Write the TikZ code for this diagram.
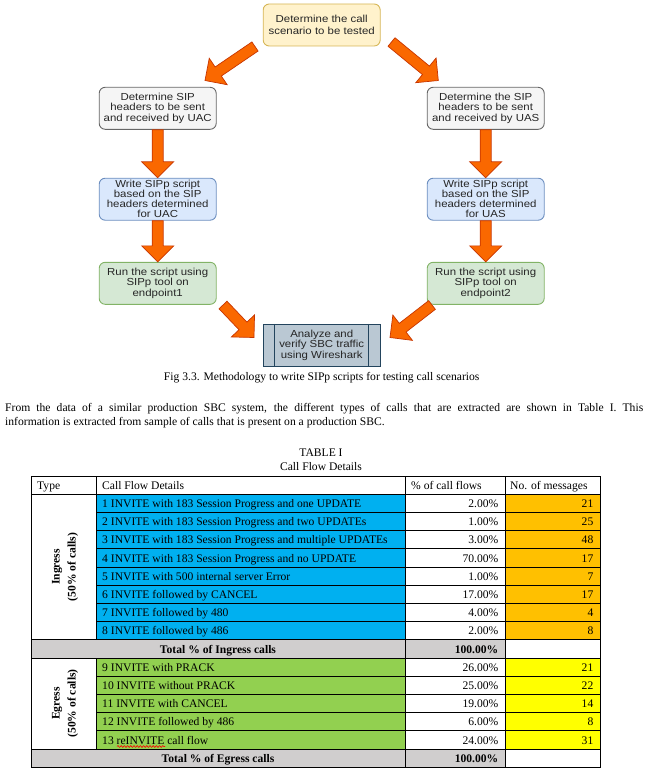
\documentclass[tikz,border=0pt]{standalone}
\usepackage{fontspec}
\setmainfont{Liberation Serif}
\newfontfamily\boxfont[FakeStretch=1.12]{Liberation Sans}
\usetikzlibrary{calc,decorations.pathmorphing}
\definecolor{yfill}{HTML}{FFF2CC}\definecolor{ydraw}{HTML}{D6B656}
\definecolor{gfill}{HTML}{F5F5F5}\definecolor{gdraw}{HTML}{666666}
\definecolor{bfill}{HTML}{DAE8FC}\definecolor{bdraw}{HTML}{6C8EBF}
\definecolor{grfill}{HTML}{D5E8D4}\definecolor{grdraw}{HTML}{82B366}
\definecolor{pfill}{HTML}{BAC8D3}\definecolor{pdraw}{HTML}{23445D}
\definecolor{afill}{HTML}{FA6800}\definecolor{adraw}{HTML}{C73500}
\definecolor{tblue}{HTML}{00B0F0}\definecolor{torange}{HTML}{FFC000}
\definecolor{tgreen}{HTML}{92D050}\definecolor{tyellow}{HTML}{FFFF00}
\definecolor{tgray}{HTML}{D0CECE}
\tikzset{
  fbox/.style={rounded corners=6pt, line width=0.9pt, minimum width=117pt,
    minimum height=42pt, inner sep=0pt, align=center,
    font=\boxfont\fontsize{10.2}{10.2}\selectfont, text=black!85},
  ybox/.style={fbox, fill=yfill, draw=ydraw, font=\boxfont\fontsize{10.2}{11.6}\selectfont},
  gbox/.style={fbox, fill=gfill, draw=gdraw},
  bbox/.style={fbox, fill=bfill, draw=bdraw, font=\boxfont\fontsize{10.2}{9.9}\selectfont},
  grbox/.style={fbox, fill=grfill, draw=grdraw, font=\boxfont\fontsize{10.2}{10.6}\selectfont},
  pbox/.style={fbox, rounded corners=0pt, fill=pfill, draw=pdraw},
  fatarrow/.style={fill=afill, draw=adraw, line width=0.7pt, line join=miter},
  cell/.style={inner sep=0pt, font=\fontsize{11.6}{13}\selectfont},
  bcell/.style={cell, font=\bfseries\fontsize{11.6}{13}\selectfont},
  grid/.style={line width=0.8pt, black},
}
\newcommand\fatarrow[2]{%
  \coordinate (fah) at ($(#2)!16pt!(#1)$);
  \filldraw[fatarrow] ($(#1)!5.5pt!90:(#2)$) -- ($(fah)!5.5pt!90:(#2)$)
    -- ($(fah)!16pt!90:(#2)$) -- (#2) -- ($(fah)!16pt!-90:(#2)$)
    -- ($(fah)!5.5pt!-90:(#2)$) -- ($(#1)!5.5pt!-90:(#2)$) -- cycle;}
\begin{document}
\begin{tikzpicture}[x=1pt,y=-1pt]
\useasboundingbox (0,0) rectangle (650,773);
% ---------------- flowchart ----------------
\node[ybox] (top) at (321.7,25) {Determine the call\\scenario to be tested};
\node[gbox] (l1) at (157.7,108.3) {Determine SIP\\headers to be sent\\and received by UAC};
\node[gbox] (r1) at (485.7,108.3) {Determine the SIP\\headers to be sent\\and received by UAS};
\node[bbox] (l2) at (157.7,199.2) {Write SIPp script\\based on the SIP\\headers determined\\for UAC};
\node[bbox] (r2) at (485.7,199.2) {Write SIPp script\\based on the SIP\\headers determined\\for UAS};
\node[grbox] (l3) at (157.7,283.3) {Run the script using\\SIPp tool on\\endpoint1};
\node[grbox] (r3) at (485.7,283.3) {Run the script using\\SIPp tool on\\endpoint2};
\node[pbox] (an) at (321.7,345.2) {Analyze and\\verify SBC traffic\\using Wireshark};
\draw[pdraw, line width=0.9pt] ([xshift=12pt]an.north west) -- ([xshift=12pt]an.south west)
  ([xshift=-12pt]an.north east) -- ([xshift=-12pt]an.south east);
\coordinate (tl0) at (255,46.5);  \coordinate (tl1) at (205,80.5);
\coordinate (tr0) at (391.5,42);  \coordinate (tr1) at (438.3,80.5);
\coordinate (bl0) at (223,305);   \coordinate (bl1) at (254,337.5);
\coordinate (br0) at (432,305);   \coordinate (br1) at (390,337.5);
\fatarrow{tl0}{tl1}
\fatarrow{tr0}{tr1}
\fatarrow{l1.south}{l2.north}
\fatarrow{r1.south}{r2.north}
\fatarrow{l2.south}{l3.north}
\fatarrow{r2.south}{r3.north}
\fatarrow{bl0}{bl1}
\fatarrow{br0}{br1}
\node[cell, anchor=base] (cap) at (321.7,380.7) {Fig 3.3. Methodology to write SIPp scripts for testing call scenarios};
% ---------------- paragraph ----------------
\node[cell, anchor=base west] (p1) at (5,411.5) {\makebox[638pt][s]{From the data of a similar production SBC system, the different types of calls that are extracted are shown in Table I. This}};
\node[cell, anchor=base west] (p2) at (5,425.5) {information is extracted from sample of calls that is present on a production SBC.};
% ---------------- table ----------------
\node[cell, anchor=base] (t1) at (321,456) {TABLE I};
\node[cell, anchor=base] (t2) at (321,470.7) {Call Flow Details};
% fills
\fill[tblue] (96,494.2) rectangle (405,639.8);
\fill[torange] (505,494.2) rectangle (600,639.8);
\fill[tgray] (31,639.8) rectangle (505,658);
\fill[tgreen] (96,658) rectangle (405,749);
\fill[tyellow] (505,658) rectangle (600,749);
\fill[tgray] (31,749) rectangle (505,767.2);
% grid
\draw[grid] (31,476) rectangle (600,767.2);
\foreach \r in {1,9,10,15} \draw[grid] (31,{476+18.2*\r}) -- (600,{476+18.2*\r});
\foreach \r in {2,...,8,11,12,13,14} \draw[grid] (96,{476+18.2*\r}) -- (600,{476+18.2*\r});
\draw[grid] (96,476) -- (96,639.8) (96,658) -- (96,749);
\draw[grid] (405,476) -- (405,767.2) (505,476) -- (505,767.2);
% header
\node[cell, anchor=base west] (h1) at (37,489.5) {Type};
\node[cell, anchor=base west] (h2) at (102,489.5) {Call Flow Details};
\node[cell, anchor=base west] (h3) at (411,489.5) {\% of call flows};
\node[cell, anchor=base west] (h4) at (510,489.5) {No. of messages};
% rows
\foreach \r/\txt/\pc/\nm in {
  1/{1 INVITE with 183 Session Progress and one UPDATE}/2.00/21,
  2/{2 INVITE with 183 Session Progress and two UPDATEs}/1.00/25,
  3/{3 INVITE with 183 Session Progress and multiple UPDATEs}/3.00/48,
  4/{4 INVITE with 183 Session Progress and no UPDATE}/70.00/17,
  5/{5 INVITE with 500 internal server Error}/1.00/7,
  6/{6 INVITE followed by CANCEL}/17.00/17,
  7/{7 INVITE followed by 480}/4.00/4,
  8/{8 INVITE followed by 486}/2.00/8,
  10/{9 INVITE with PRACK}/26.00/21,
  11/{10 INVITE without PRACK}/25.00/22,
  12/{11 INVITE with CANCEL}/19.00/14,
  13/{12 INVITE followed by 486}/6.00/8,
  14/{13 reINVITE call flow}/24.00/31}{
  \node[cell, anchor=base west] (d\r) at (102,{476+18.2*\r+13.3}) {\txt};
  \node[cell, anchor=base east] (p\r) at (498.5,{476+18.2*\r+13.3}) {\pc\%};
  \node[cell, anchor=base east] (n\r) at (593.5,{476+18.2*\r+13.3}) {\nm};
}
\node[bcell, anchor=base] (ti) at (218,{476+18.2*9+13.3}) {Total \% of Ingress calls};
\node[bcell, anchor=base east] (tip) at (498.5,{476+18.2*9+13.3}) {100.00\%};
\node[bcell, anchor=base] (te) at (218,{476+18.2*15+13.3}) {Total \% of Egress calls};
\node[bcell, anchor=base east] (tep) at (498.5,{476+18.2*15+13.3}) {100.00\%};
\node[bcell, rotate=90, align=center, font=\bfseries\fontsize{11.6}{16}\selectfont] (ing) at (65,567) {Ingress\\(50\% of calls)};
\node[bcell, rotate=90, align=center, font=\bfseries\fontsize{11.6}{16}\selectfont] (egr) at (65,703.5) {Egress\\(50\% of calls)};
\coordinate (w0) at (117,746.5); \coordinate (w1) at (165,746.5);
\draw[red, line width=0.6pt, decorate, decoration={snake, amplitude=0.9pt, segment length=3.2pt}] (w0) -- (w1);
\end{tikzpicture}
\end{document}
